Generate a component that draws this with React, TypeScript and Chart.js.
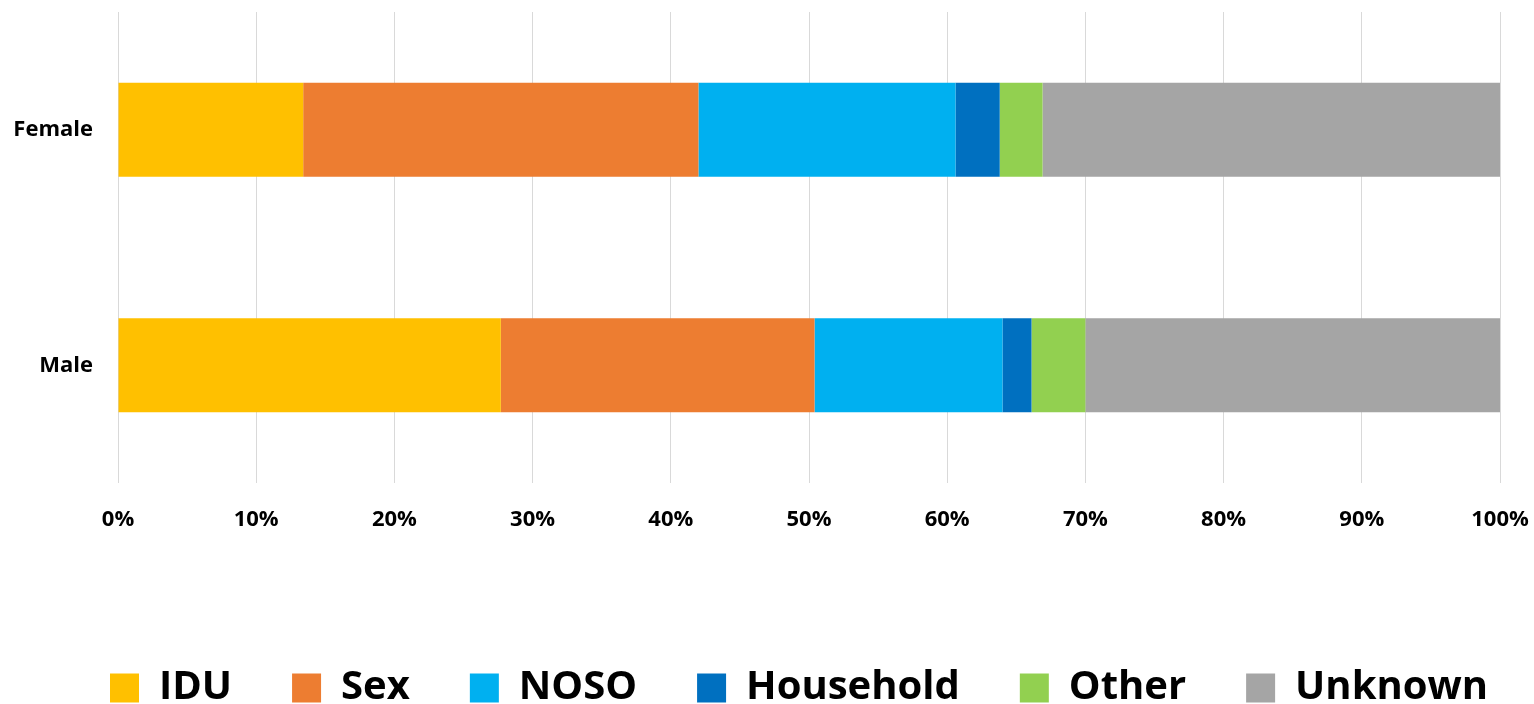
import React, { useEffect, useRef } from "react";
import { Chart, registerables } from "chart.js";

Chart.register(...registerables);

const categories = ["Female", "Male"];
const seriesNames = ["IDU", "Sex", "NOSO", "Household", "Other", "Unknown"];
const idu = [13.4, 27.7];
const sex = [28.6, 22.7];
const noso = [18.6, 13.6];
const household = [3.2, 2.1];
const other = [3.1, 3.9];
const unknown = [33.1, 30.0];
const seriesValues = [idu, sex, noso, household, other, unknown];
const seriesColors = ["#FFC000", "#ED7D31", "#00B0F0", "#0070C0", "#92D050", "#A5A5A5"];
const xTicks = [0, 10, 20, 30, 40, 50, 60, 70, 80, 90, 100];

const FONT = "'Open Sans', 'DejaVu Sans', sans-serif";

export default function App() {
  const ref = useRef<HTMLCanvasElement | null>(null);

  useEffect(() => {
    document.body.style.margin = "0";
    if (!ref.current) return;
    const legendFit = {
      id: "legendFit",
      beforeInit(chart: any) {
        const orig = chart.legend.fit;
        chart.legend.fit = function () {
          orig.call(this);
          this.height = 96;
        };
      },
      afterLayout(chart: any) {
        const lg = chart.legend;
        if (lg) {
          lg.left = 48;
          lg.right = 1550;
          lg.width = lg.right - lg.left;
        }
      },
    };
    const chart = new Chart(ref.current, {
      type: "bar",
      data: {
        labels: categories,
        datasets: seriesNames.map((name, i) => ({
          label: name,
          data: seriesValues[i],
          backgroundColor: seriesColors[i],
          borderWidth: 0,
          barPercentage: 0.4,
          categoryPercentage: 1.0,
        })),
      },
      options: {
        indexAxis: "y",
        animation: false,
        responsive: true,
        maintainAspectRatio: false,
        layout: { padding: { top: 12, right: 34, left: 0, bottom: 0 } },
        plugins: {
          tooltip: { enabled: false },
          legend: {
            position: "bottom",
            labels: {
              boxWidth: 29,
              boxHeight: 29,
              padding: 60,
              color: "#000",
              font: { family: FONT, size: 40, weight: "bold" },
            },
          },
        },
        scales: {
          x: {
            stacked: true,
            min: 0,
            max: 100,
            afterBuildTicks: (scale: any) => {
              scale.ticks = xTicks.map((v) => ({ value: v }));
            },
            afterFit: (scale: any) => {
              scale.height = 125;
              scale.paddingLeft = 0;
              scale.paddingRight = 0;
            },
            grid: { color: "#d9d9d9", lineWidth: 1, drawTicks: false },
            border: { display: false },
            ticks: {
              padding: 24,
              color: "#000",
              font: { family: FONT, size: 22, weight: "bold" },
              maxRotation: 0,
              callback: (v: any) => v + "%",
            },
          },
          y: {
            stacked: true,
            afterFit: (scale: any) => {
              scale.width = 118;
              scale.paddingTop = 0;
              scale.paddingBottom = 0;
            },
            grid: { display: false, drawTicks: false },
            border: { display: false },
            ticks: {
              padding: 25,
              color: "#000",
              font: { family: FONT, size: 22, weight: "bold" },
            },
          },
        },
      },
      plugins: [legendFit],
    });
    return () => chart.destroy();
  }, []);

  return (
    <div style={{ position: "absolute", left: 0, top: 0, width: 1534, height: 704 }}>
      <canvas ref={ref} />
    </div>
  );
}
